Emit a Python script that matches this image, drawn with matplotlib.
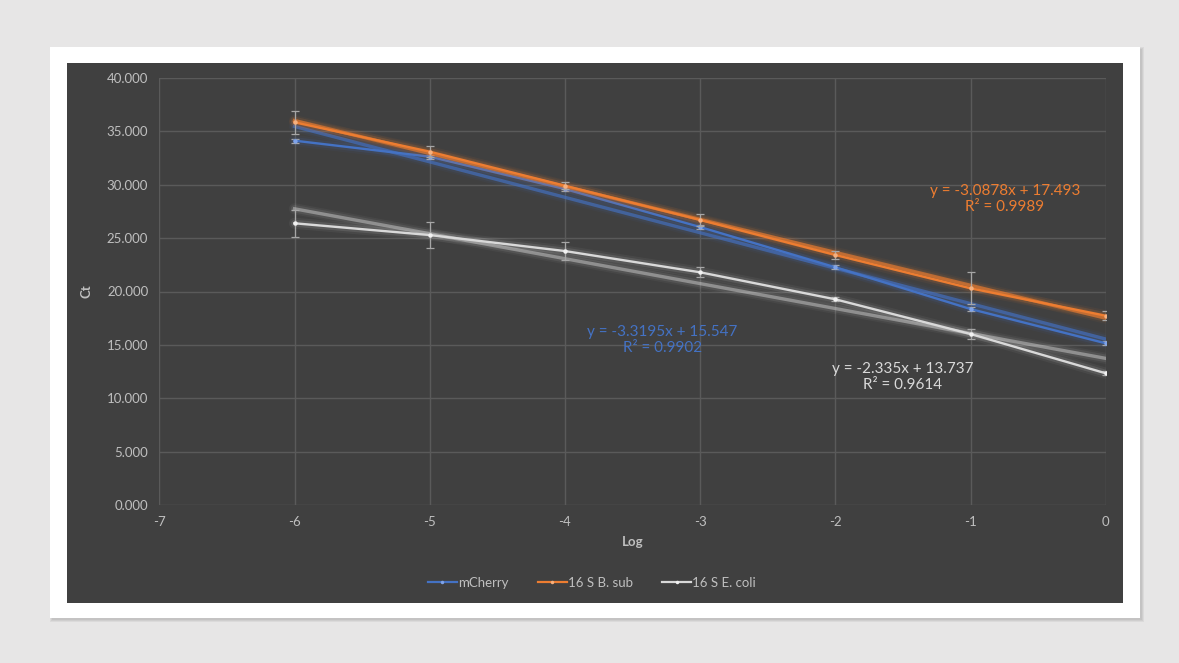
import matplotlib
matplotlib.use("Agg")
import matplotlib.pyplot as plt
from matplotlib.patches import Rectangle
from matplotlib.lines import Line2D
import numpy as np

plt.rcParams['font.family'] = ['Lato', 'DejaVu Sans']

# ---- data ----
log_x = [-6, -5, -4, -3, -2, -1, 0]
series_names = ["mCherry", "16 S B. sub", "16 S E. coli"]
mcherry = [34.13, 32.63, 29.60, 26.04, 22.27, 18.36, 15.15]
bsub = [35.85, 33.10, 29.91, 26.70, 23.42, 20.30, 17.73]
ecoli = [26.39, 25.29, 23.79, 21.80, 19.27, 16.02, 12.34]
mcherry_err = [0.2, 0.2, 0.2, 0.2, 0.2, 0.2, 0.2]
bsub_err = [1.05, 0.5, 0.35, 0.6, 0.4, 1.5, 0.4]
ecoli_err = [1.25, 1.25, 0.87, 0.45, 0.2, 0.45, 0.2]
slopes = [-3.3195, -3.0878, -2.335]
intercepts = [15.547, 17.493, 13.737]
r2 = [0.9902, 0.9989, 0.9614]
colors = ["#4472C4", "#ED7D31", "#D9D9D9"]
marker_colors = ["#7FA3E8", "#F6B07E", "#F2F2F2"]
x_ticks = [-7, -6, -5, -4, -3, -2, -1, 0]
y_ticks = [0, 5, 10, 15, 20, 25, 30, 35, 40]

W, H = 1179, 663
fig = plt.figure(figsize=(W / 100, H / 100), dpi=100)
fig.patch.set_facecolor("#E7E6E6")

def fx(px): return px / W
def fy(py): return 1 - py / H

# card with shadow
for i in range(3):
    fig.patches.append(Rectangle((fx(50 - i + 2), fy(618 + i + 2)), fx(1090 + 2 * i), (571 + 2 * i) / H,
                                 transform=fig.transFigure, facecolor="black", alpha=0.05, edgecolor="none", zorder=0))
fig.patches.append(Rectangle((fx(50), fy(618)), fx(1090), 571 / H, transform=fig.transFigure,
                             facecolor="white", edgecolor="none", zorder=1))
fig.patches.append(Rectangle((fx(67), fy(603)), fx(1056), 540 / H, transform=fig.transFigure,
                             facecolor="#404040", edgecolor="none", zorder=2))

ax = fig.add_axes([fx(159.3), fy(505), fx(1105.7 - 159.3), 427 / H])
ax.set_facecolor("none")
ax.set_zorder(3)
ax.set_xlim(-7, 0)
ax.set_ylim(0, 40)
ax.set_xticks(x_ticks)
ax.set_yticks(y_ticks)
ax.set_xticklabels([str(t) for t in x_ticks])
ax.set_yticklabels([f"{t:.3f}" for t in y_ticks])
ax.grid(True, color="#5A5A5A", lw=1)
ax.set_axisbelow(True)
for s in ax.spines.values():
    s.set_visible(False)
ax.tick_params(length=0, colors="#BFBFBF", labelsize=9.5, pad=8)
ax.set_xlabel("Log", color="#BFBFBF", fontsize=9.5, fontweight="bold", labelpad=6)
ax.set_ylabel("Ct", color="#BFBFBF", fontsize=9.5, fontweight="bold", labelpad=10)

xs = np.array(log_x)
data = [mcherry, bsub, ecoli]
errs = [mcherry_err, bsub_err, ecoli_err]
order = [2, 0, 1]
for i in order:
    c = colors[i]
    ys = np.array(data[i])
    # trendline
    tl = slopes[i] * xs + intercepts[i]
    for lw, a in [(8, 0.05), (5.5, 0.09)]:
        ax.plot(xs, tl, color=c, lw=lw, alpha=a, solid_capstyle="round")
    ax.plot(xs, tl, color=c, lw=2.4, alpha=0.65 if i != 2 else 0.45)
    # series glow
    for lw, a in [(8, 0.06), (5, 0.12)]:
        ax.plot(xs, ys, color=c, lw=lw, alpha=a, solid_capstyle="round")
    ax.errorbar(xs, ys, yerr=errs[i], fmt="none", ecolor="#A6A6A6", elinewidth=0.9, capsize=3, capthick=0.9)
    ax.plot(xs, ys, color=c, lw=1.7, marker="o", ms=3.2, mfc=marker_colors[i], mec=marker_colors[i], mew=0)

# equation labels
label_pos = [(-3.28, 15.46), (-0.745, 28.67), (-1.50, 11.99)]
for i in range(3):
    tx, ty = label_pos[i]
    ax.text(tx, ty, f"y = {slopes[i]}x + {intercepts[i]}\nR² = {r2[i]}", color=colors[i],
            fontsize=11, ha="center", va="center", linespacing=1.25)

handles = [Line2D([0], [0], color=colors[i], lw=1.6, marker="o", ms=2.5, mfc=marker_colors[i], mec=marker_colors[i], mew=0)
           for i in range(3)]
leg = fig.legend(handles, series_names, loc="center", bbox_to_anchor=(fx(592), fy(583)), ncol=3, frameon=False,
                 fontsize=9.5, handlelength=2.2, handletextpad=0.1, columnspacing=2.2, labelcolor="#BFBFBF")

fig.savefig("out.png", dpi=100, facecolor=fig.get_facecolor())
